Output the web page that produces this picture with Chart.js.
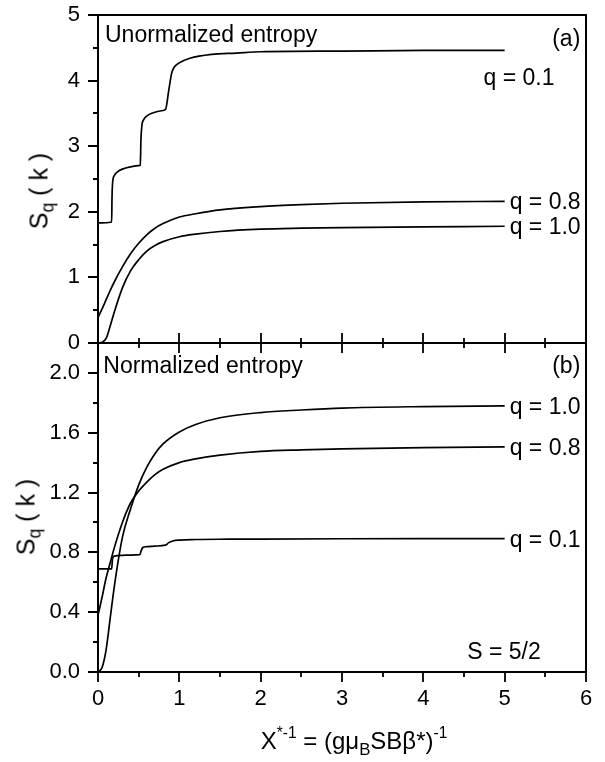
<!DOCTYPE html>
<html>
<head>
<meta charset="utf-8">
<title>Entropy S_q versus reduced temperature</title>
<script src="https://cdn.jsdelivr.net/npm/chart.js@4.4.0/dist/chart.umd.min.js"></script>
<style>
  html, body { margin: 0; padding: 0; background: #fff; }
  body { position: relative; width: 605px; height: 762px; overflow: hidden;
         font-family: "Liberation Sans", Arial, Helvetica, sans-serif; color: #000; }
  canvas { position: absolute; left: 0; }
  #chartTop { top: 0; }
  #chartBottom { top: 330px; }
  .title { position: absolute; white-space: nowrap; line-height: 1; }
  .ytitle { font-size: 25px; transform: translate(-50%, -50%) rotate(-90deg); }
  .xtitle { font-size: 24px; transform: translate(-50%, -50%); }
  .sub { font-size: 0.7em; position: relative; top: 0.35em; }
  .sup { font-size: 0.65em; position: relative; top: -0.7em; }
</style>
</head>
<body>
<canvas id="chartTop" width="605" height="360"></canvas>
<canvas id="chartBottom" width="605" height="432"></canvas>
<div class="title ytitle" style="left:39px; top:191px">S<span class="sub">q</span> ( k )</div>
<div class="title ytitle" style="left:26px; top:517px">S<span class="sub">q</span> ( k )</div>
<div class="title xtitle" style="left:354px; top:741px">X<span class="sup">*-1</span> = (gμ<span class="sub">B</span>SBβ*)<span class="sup">-1</span></div>

<script>
// shared x values (x*^-1) for the smooth curves
const xGrid = [0, 0.05, 0.1, 0.15, 0.2, 0.3, 0.4, 0.5, 0.6, 0.7, 0.8, 1.0, 1.2, 1.5, 2.0, 2.5, 3.0, 4.0, 5.0];

// (a) unnormalized entropy
const unnormQ10 = [0, 0.01, 0.07, 0.26, 0.47, 0.84, 1.10, 1.27, 1.40, 1.485, 1.545, 1.62, 1.66, 1.70, 1.735, 1.75, 1.76, 1.77, 1.78];
const unnormQ08 = [0.39, 0.52, 0.66, 0.80, 0.93, 1.16, 1.36, 1.52, 1.65, 1.75, 1.82, 1.92, 1.97, 2.03, 2.08, 2.11, 2.13, 2.15, 2.16];
const unnormQ01x = [0, 0.168, 0.172, 0.18, 0.2, 0.24, 0.3, 0.4, 0.5, 0.52, 0.528, 0.54, 0.56, 0.6, 0.68, 0.78, 0.83, 0.87, 0.905, 0.94, 1.0, 1.13, 1.4, 1.7, 2.0, 3.0, 4.0, 5.0];
const unnormQ01y = [1.83, 1.845, 2.2, 2.45, 2.55, 2.61, 2.65, 2.685, 2.705, 2.71, 3.1, 3.32, 3.40, 3.46, 3.51, 3.54, 3.56, 3.85, 4.11, 4.21, 4.27, 4.34, 4.40, 4.42, 4.44, 4.45, 4.46, 4.46];

// (b) normalized entropy
const normQ10 = [0, 0.03, 0.15, 0.36, 0.57, 0.90, 1.09, 1.25, 1.37, 1.46, 1.525, 1.605, 1.655, 1.70, 1.735, 1.752, 1.765, 1.775, 1.78];
const normQ08 = [0.38, 0.50, 0.63, 0.73, 0.83, 1.00, 1.13, 1.21, 1.27, 1.32, 1.355, 1.40, 1.425, 1.45, 1.475, 1.485, 1.492, 1.50, 1.505];
const normQ01x = [0, 0.168, 0.178, 0.2, 0.3, 0.4, 0.515, 0.53, 0.55, 0.6, 0.7, 0.83, 0.87, 0.92, 1.0, 1.2, 1.6, 2.0, 3.0, 4.0, 5.0];
const normQ01y = [0.69, 0.69, 0.755, 0.775, 0.78, 0.782, 0.785, 0.81, 0.832, 0.838, 0.842, 0.848, 0.865, 0.876, 0.882, 0.886, 0.888, 0.889, 0.891, 0.892, 0.892];

const xTickStep = 1;
const topYTickStep = 1;
const bottomYTickStep = 0.4;

const FONT = '"Liberation Sans", Arial, Helvetica, sans-serif';
const last = arr => arr[arr.length - 1];
const pts = (xs, ys) => xs.map((x, i) => ({ x, y: ys[i] }));

function curve(xs, ys) {
    return {
        data: pts(xs, ys),
        showLine: true,
        borderColor: '#000',
        borderWidth: 1.7,
        pointRadius: 0,
        fill: false,
        cubicInterpolationMode: 'monotone'
    };
}

// frame + major/minor ticks, drawn from the chart's own scales
function axisFrame(o) {
    return {
        id: 'axisFrame',
        afterDatasetsDraw(chart) {
            const { ctx, chartArea: a, scales: { x, y } } = chart;
            ctx.save();
            ctx.strokeStyle = '#000';
            ctx.lineWidth = 2;
            ctx.strokeRect(a.left, a.top, a.right - a.left, a.bottom - a.top);
            ctx.lineWidth = 1.8;
            ctx.beginPath();
            const ny = Math.round((y.max - y.min) / o.yMinor);
            for (let i = 0; i <= ny; i++) {
                const py = Math.round(y.getPixelForValue(y.min + i * o.yMinor));
                const len = i % o.yEvery === 0 ? 10 : 5;
                ctx.moveTo(a.left - len, py);
                ctx.lineTo(a.left, py);
            }
            const nx = Math.round((x.max - x.min) / o.xMinor);
            for (let i = 0; i <= nx; i++) {
                const px = Math.round(x.getPixelForValue(x.min + i * o.xMinor));
                const len = i % o.xEvery === 0 ? 10 : 5;
                ctx.moveTo(px, a.bottom + len);
                ctx.lineTo(px, o.cross ? a.bottom - len : a.bottom);
            }
            ctx.stroke();
            ctx.restore();
        }
    };
}

// text notes placed in data coordinates
function notes(items) {
    return {
        id: 'notes',
        afterDatasetsDraw(chart) {
            const { ctx, scales: { x, y } } = chart;
            ctx.save();
            ctx.fillStyle = '#000';
            ctx.font = '23px ' + FONT;
            ctx.textBaseline = 'alphabetic';
            items.forEach(n => {
                ctx.textAlign = n.align || 'left';
                ctx.fillText(n.text, x.getPixelForValue(n.x) + (n.dx || 0), y.getPixelForValue(n.y) + (n.dy || 0));
            });
            ctx.restore();
        }
    };
}

function scalesFor(yMin, yMax, yStep, showX, xHeight, fmt) {
    return {
        x: {
            type: 'linear', min: 0, max: 6,
            grid: { drawOnChartArea: false, color: 'rgba(0,0,0,0)', tickLength: 10 },
            border: { display: false },
            ticks: { display: showX, stepSize: xTickStep, padding: 4, color: '#000', font: { family: FONT, size: 22 } },
            afterFit(s) { s.height = xHeight; s.paddingLeft = 0; s.paddingRight = 0; }
        },
        y: {
            type: 'linear', min: yMin, max: yMax,
            grid: { drawOnChartArea: false, color: 'rgba(0,0,0,0)', tickLength: 10 },
            border: { display: false },
            ticks: { stepSize: yStep, includeBounds: false, padding: 8, color: '#000',
                     font: { family: FONT, size: 22 }, callback: fmt },
            afterFit(s) { s.width = 98; s.paddingTop = 0; s.paddingBottom = 0; }
        }
    };
}

const common = {
    responsive: false,
    animation: false,
    devicePixelRatio: 1,
    plugins: { legend: { display: false }, tooltip: { enabled: false } }
};

new Chart(document.getElementById('chartTop'), {
    type: 'scatter',
    data: {
        datasets: [
            curve(unnormQ01x, unnormQ01y),
            curve(xGrid, unnormQ08),
            curve(xGrid, unnormQ10)
        ]
    },
    options: Object.assign({}, common, {
        layout: { padding: { top: 15, right: 19, bottom: 0, left: 0 } },
        scales: scalesFor(0, 5, topYTickStep, false, 17, v => String(v))
    }),
    plugins: [
        axisFrame({ yMinor: 0.5, yEvery: 2, xMinor: 0.5, xEvery: 2, cross: true }),
        notes([
            { text: 'Unormalized entropy', x: 0.086, y: 4.59 },
            { text: '(a)', x: 5.93, y: 4.535, align: 'right' },
            { text: 'q = 0.1', x: 4.74, y: 3.93 },
            { text: 'q = 0.8', x: last(xGrid), y: last(unnormQ08), dx: 5, dy: 8 },
            { text: 'q = 1.0', x: last(xGrid), y: last(unnormQ10), dx: 5, dy: 8 }
        ])
    ]
});

new Chart(document.getElementById('chartBottom'), {
    type: 'scatter',
    data: {
        datasets: [
            curve(normQ01x, normQ01y),
            curve(xGrid, normQ08),
            curve(xGrid, normQ10)
        ]
    },
    options: Object.assign({}, common, {
        layout: { padding: { top: 13, right: 19, bottom: 0, left: 0 } },
        scales: scalesFor(0, 2.2, bottomYTickStep, true, 90, v => v.toFixed(1))
    }),
    plugins: [
        axisFrame({ yMinor: 0.2, yEvery: 2, xMinor: 0.5, xEvery: 2, cross: false }),
        notes([
            { text: 'Normalized entropy', x: 0.065, y: 2.0 },
            { text: '(b)', x: 5.93, y: 2.0, align: 'right' },
            { text: 'q = 1.0', x: last(xGrid), y: last(normQ10), dx: 5, dy: 8 },
            { text: 'q = 0.8', x: last(xGrid), y: last(normQ08), dx: 5, dy: 8 },
            { text: 'q = 0.1', x: last(normQ01x), y: last(normQ01y), dx: 5, dy: 8 },
            { text: 'S = 5/2', x: 4.54, y: 0.09 }
        ])
    ]
});
</script>
</body>
</html>
